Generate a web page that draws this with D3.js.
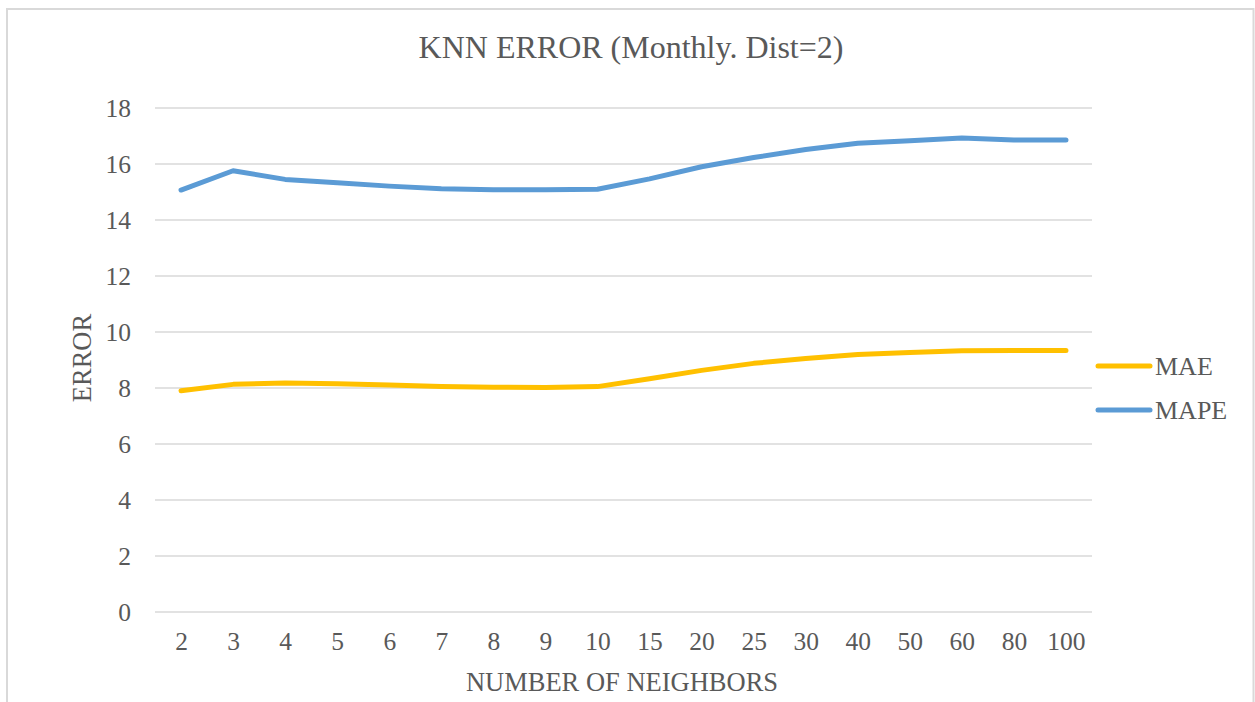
<!DOCTYPE html>
<html>
<head>
<meta charset="utf-8">
<script src="https://cdn.jsdelivr.net/npm/d3@7"></script>
<style>
  html, body { margin: 0; padding: 0; background: #fff; }
  svg { display: block; }
  svg text { font-family: Tinos, "Liberation Serif", "Times New Roman", serif; }
</style>
</head>
<body>
<svg id="chart" width="1255" height="702"></svg>
<script>
// Number of neighbours (k) evaluated
const neighbors = ["2", "3", "4", "5", "6", "7", "8", "9", "10", "15", "20", "25", "30", "40", "50", "60", "80", "100"];
// Mean absolute error per k
const maeValues = [7.9, 8.13, 8.18, 8.15, 8.11, 8.05, 8.03, 8.02, 8.05, 8.33, 8.63, 8.88, 9.05, 9.2, 9.27, 9.33, 9.34, 9.34];
// Mean absolute percentage error per k
const mapeValues = [15.07, 15.76, 15.45, 15.33, 15.21, 15.12, 15.08, 15.08, 15.1, 15.47, 15.9, 16.23, 16.52, 16.74, 16.83, 16.93, 16.86, 16.86];
const yTicks = [0, 2, 4, 6, 8, 10, 12, 14, 16, 18];

const series = [
  { name: "MAE", values: maeValues, color: "#FFC000" },
  { name: "MAPE", values: mapeValues, color: "#5B9BD5" }
];

const W = 1255, H = 702;
const plot = { left: 155, right: 1092, top: 108, bottom: 612 };
const textColor = "#595959";
const gridColor = "#d9d9d9";

const svg = d3.select("#chart");

// chart frame
svg.append("rect")
  .attr("x", 7).attr("y", 9)
  .attr("width", W - 7 - 1.5).attr("height", H + 10)
  .attr("fill", "#fff")
  .attr("stroke", gridColor).attr("stroke-width", 2);

const x = d3.scalePoint().domain(neighbors)
  .range([plot.left, plot.right]).padding(0.5);
const y = d3.scaleLinear().domain([0, 18]).range([plot.bottom, plot.top]);

// horizontal gridlines
svg.append("g").selectAll("line").data(yTicks).join("line")
  .attr("x1", plot.left).attr("x2", plot.right)
  .attr("y1", d => y(d)).attr("y2", d => y(d))
  .attr("stroke", gridColor).attr("stroke-width", 1.5);

// y axis tick labels
const yAxis = d3.axisLeft(y).tickValues(yTicks).tickSize(0).tickPadding(0);
const yg = svg.append("g").attr("transform", `translate(${plot.left - 24},0)`).call(yAxis);
yg.attr("font-family", null);
yg.select(".domain").remove();
yg.selectAll("text")
  .attr("font-size", 25.5).attr("fill", textColor)
  .attr("dy", "0.34em");

// x axis tick labels
const xAxis = d3.axisBottom(x).tickSize(0).tickPadding(0);
const xg = svg.append("g").attr("transform", `translate(0,${plot.bottom + 20})`).call(xAxis);
xg.attr("font-family", null);
xg.select(".domain").remove();
xg.selectAll("text")
  .attr("font-size", 25.5).attr("fill", textColor)
  .attr("dy", "0.7em");

// title
svg.append("text")
  .attr("x", 631).attr("y", 58)
  .attr("text-anchor", "middle")
  .attr("font-size", 32).attr("fill", textColor)
  .text("KNN ERROR (Monthly. Dist=2)");

// axis titles
svg.append("text")
  .attr("x", 622).attr("y", 691)
  .attr("text-anchor", "middle")
  .attr("font-size", 26.5).attr("fill", textColor)
  .text("NUMBER OF NEIGHBORS");

svg.append("text")
  .attr("transform", `translate(91,358) rotate(-90)`)
  .attr("text-anchor", "middle")
  .attr("font-size", 26.5).attr("fill", textColor)
  .text("ERROR");

// series lines
const line = d3.line()
  .x((d, i) => x(neighbors[i]))
  .y(d => y(d));

svg.append("g").selectAll("path").data(series).join("path")
  .attr("d", s => line(s.values))
  .attr("fill", "none")
  .attr("stroke", s => s.color)
  .attr("stroke-width", 5)
  .attr("stroke-linecap", "round")
  .attr("stroke-linejoin", "round");

// legend
const legend = svg.append("g").selectAll("g").data(series).join("g")
  .attr("transform", (d, i) => `translate(1098,${366 + i * 44})`);
legend.append("line")
  .attr("x1", 0).attr("x2", 52)
  .attr("stroke", d => d.color).attr("stroke-width", 5)
  .attr("stroke-linecap", "round");
legend.append("text")
  .attr("x", 57).attr("dy", "0.34em")
  .attr("font-size", 26).attr("fill", textColor)
  .text(d => d.name);
</script>
</body>
</html>
